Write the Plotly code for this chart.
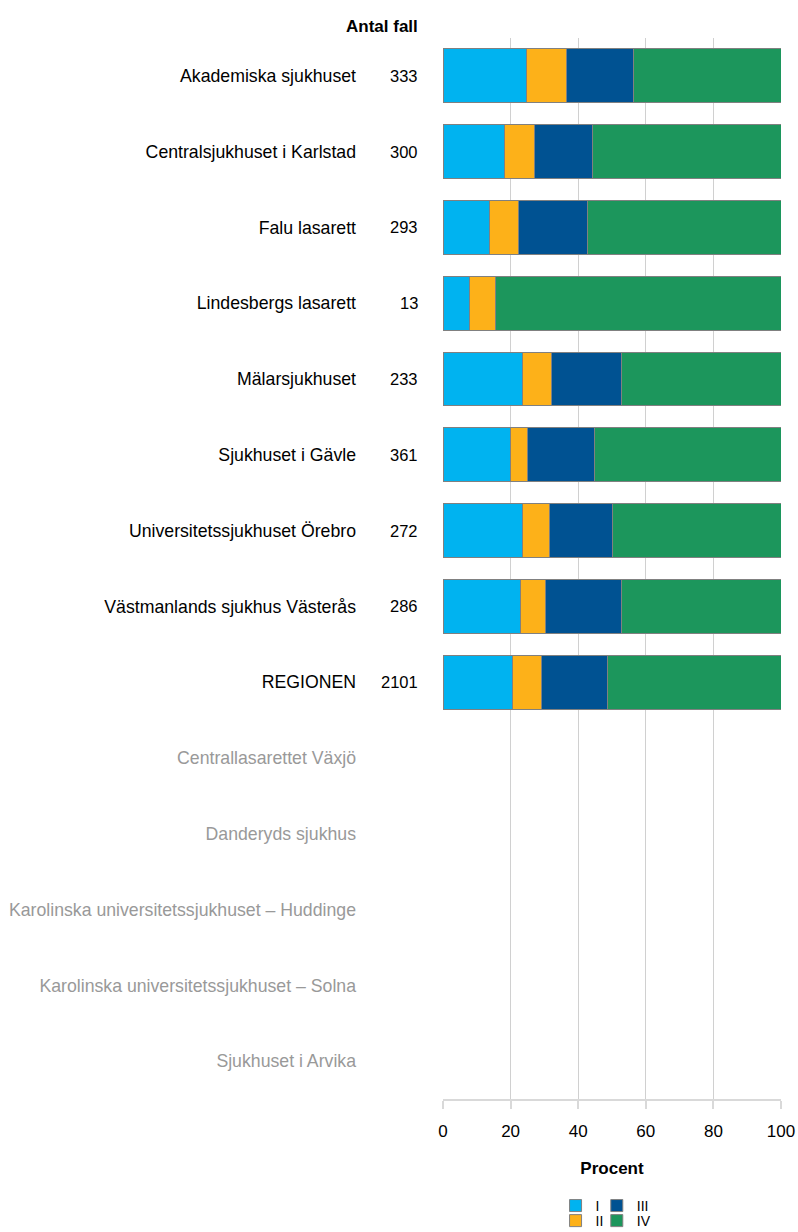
import plotly.graph_objects as go

categories = [
    "Akademiska sjukhuset",
    "Centralsjukhuset i Karlstad",
    "Falu lasarett",
    "Lindesbergs lasarett",
    "Mälarsjukhuset",
    "Sjukhuset i Gävle",
    "Universitetssjukhuset Örebro",
    "Västmanlands sjukhus Västerås",
    "REGIONEN",
    "Centrallasarettet Växjö",
    "Danderyds sjukhus",
    "Karolinska universitetssjukhuset – Huddinge",
    "Karolinska universitetssjukhuset – Solna",
    "Sjukhuset i Arvika",
]
counts = [333, 300, 293, 13, 233, 361, 272, 286, 2101, None, None, None, None, None]

stage_I = [24.8, 18.3, 13.7, 7.7, 23.6, 19.9, 23.6, 22.9, 20.7, None, None, None, None, None]
stage_II = [11.6, 8.7, 8.5, 7.7, 8.6, 5.0, 7.8, 7.3, 8.3, None, None, None, None, None]
stage_III = [20.1, 17.3, 20.5, 0.0, 20.6, 19.9, 18.7, 22.7, 19.8, None, None, None, None, None]
stage_IV = [43.5, 55.7, 57.3, 84.6, 47.2, 55.2, 49.9, 47.1, 51.2, None, None, None, None, None]

series_names = ["I", "II", "III", "IV"]
series_values = [stage_I, stage_II, stage_III, stage_IV]
series_colors = ["#00B3F0", "#FDB119", "#005292", "#1C965C"]
legend_ids = ["legend", "legend2", "legend3", "legend4"]

FONT = "Liberation Sans, Arial, sans-serif"
BLACK = "#000000"

fig = go.Figure()
for name, vals, color, leg in zip(series_names, series_values, series_colors, legend_ids):
    fig.add_trace(go.Bar(
        y=categories, x=vals, name=name, orientation="h",
        marker=dict(color=color, line=dict(color="#808080", width=1)),
        width=0.71, legend=leg, hoverinfo="x+y+name",
    ))

ticktext = []
for c, n in zip(categories, counts):
    if n is None:
        ticktext.append(f'<span style="color:#999999">{c}</span>')
    else:
        ticktext.append(c)

annotations = []
for c, n in zip(categories, counts):
    if n is not None:
        annotations.append(dict(
            x=-0.068, xref="paper", y=c, yref="y", text=str(n),
            showarrow=False, xanchor="right", yanchor="middle",
            font=dict(family=FONT, size=16.5, color=BLACK),
        ))
annotations.append(dict(
    x=-0.068, xref="paper", y=1.0113, yref="paper", text="<b>Antal fall</b>",
    showarrow=False, xanchor="right", yanchor="middle",
    font=dict(family=FONT, size=17, color=BLACK),
))

leg_common = dict(
    xanchor="left", yanchor="middle", orientation="v",
    font=dict(family=FONT, size=14, color=BLACK), tracegroupgap=0,
    bgcolor="rgba(0,0,0,0)", traceorder="normal",
)
row1 = -0.1008
row2 = -0.1150
col1 = 0.333
col2 = 0.455

fig.update_layout(
    barmode="stack",
    width=798, height=1232,
    margin=dict(l=443, r=17, t=38, b=133, autoexpand=False),
    plot_bgcolor="white", paper_bgcolor="white",
    font=dict(family=FONT, size=17, color=BLACK),
    annotations=annotations,
    xaxis=dict(
        range=[0, 100], tickvals=[0, 20, 40, 60, 80, 100],
        showgrid=True, gridcolor="#D0D0D0", gridwidth=1,
        zeroline=False, showline=True, linecolor="#D9D9D9", linewidth=2,
        ticks="outside", ticklen=8, tickcolor="#D9D9D9", tickwidth=2,
        ticklabelstandoff=8, ticklabeloverflow="allow",
        tickfont=dict(family=FONT, size=17, color=BLACK),
        title=dict(text="<b>Procent</b>", font=dict(family=FONT, size=17, color=BLACK), standoff=22),
        automargin=False, fixedrange=True,
    ),
    yaxis=dict(
        type="category", categoryorder="array", categoryarray=categories,
        autorange="reversed",
        tickvals=categories, ticktext=ticktext,
        showgrid=False, zeroline=False, showline=False, ticks="",
        ticklabelstandoff=86,
        tickfont=dict(family=FONT, size=17.7, color=BLACK),
        automargin=False, fixedrange=True,
    ),
    legend=dict(x=col1, y=row1, **leg_common),
    legend2=dict(x=col1, y=row2, **leg_common),
    legend3=dict(x=col2, y=row1, **leg_common),
    legend4=dict(x=col2, y=row2, **leg_common),
    showlegend=True,
)

fig.write_html(
    "out.html",
    config={"displayModeBar": False},
    post_script="document.body.style.margin='0';document.body.style.overflow='hidden';",
)
